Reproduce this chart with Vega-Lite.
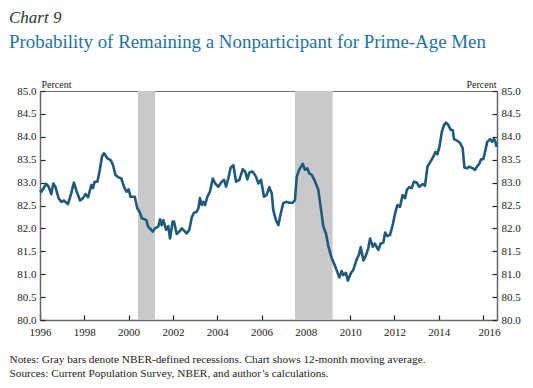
{
  "$schema": "https://vega.github.io/schema/vega-lite/v6.json",
  "width": 457,
  "height": 229,
  "autosize": {"type": "none"},
  "padding": {"left": 40, "top": 91, "right": 36, "bottom": 68},
  "background": "white",
  "config": {
    "font": "Liberation Serif",
    "view": {"stroke": "#777", "strokeWidth": 1},
    "axis": {
      "labelFont": "Liberation Serif",
      "labelFontSize": 11,
      "labelColor": "#222",
      "labelFlush": false,
      "domainColor": "#666",
      "domainWidth": 1.5,
      "tickColor": "#222",
      "tickWidth": 1.2,
      "tickSize": -5,
      "labelPadding": 9,
      "grid": false
    }
  },
  "title": {
    "text": "Chart 9",
    "subtitle": "Probability of Remaining a Nonparticipant for Prime-Age Men",
    "anchor": "start",
    "frame": "group",
    "dx": -31,
    "offset": 26,
    "font": "Liberation Serif",
    "fontStyle": "italic",
    "fontWeight": "normal",
    "fontSize": 17,
    "color": "#333333",
    "subtitleFont": "Liberation Serif",
    "subtitleFontSize": 18.9,
    "subtitleColor": "#1f72a0",
    "subtitlePadding": 6
  },
  "datasets": {
    "series": [
      {"year": 1996.0, "value": 82.84},
      {"year": 1996.06, "value": 82.80},
      {"year": 1996.28, "value": 82.97},
      {"year": 1996.39, "value": 82.91},
      {"year": 1996.51, "value": 82.75},
      {"year": 1996.60, "value": 82.98},
      {"year": 1996.69, "value": 82.91},
      {"year": 1996.84, "value": 82.66},
      {"year": 1996.96, "value": 82.58},
      {"year": 1997.08, "value": 82.61},
      {"year": 1997.26, "value": 82.53},
      {"year": 1997.39, "value": 82.73},
      {"year": 1997.53, "value": 83.00},
      {"year": 1997.66, "value": 82.80},
      {"year": 1997.81, "value": 82.61},
      {"year": 1997.94, "value": 82.66},
      {"year": 1998.05, "value": 82.75},
      {"year": 1998.17, "value": 82.68},
      {"year": 1998.32, "value": 82.95},
      {"year": 1998.39, "value": 82.88},
      {"year": 1998.47, "value": 83.02},
      {"year": 1998.59, "value": 83.02},
      {"year": 1998.70, "value": 83.28},
      {"year": 1998.80, "value": 83.57},
      {"year": 1998.89, "value": 83.64},
      {"year": 1999.04, "value": 83.53},
      {"year": 1999.19, "value": 83.49},
      {"year": 1999.30, "value": 83.38},
      {"year": 1999.40, "value": 83.17},
      {"year": 1999.52, "value": 83.12},
      {"year": 1999.67, "value": 83.09},
      {"year": 1999.79, "value": 82.91},
      {"year": 1999.90, "value": 82.80},
      {"year": 2000.00, "value": 82.85},
      {"year": 2000.09, "value": 82.69},
      {"year": 2000.28, "value": 82.69},
      {"year": 2000.39, "value": 82.44},
      {"year": 2000.50, "value": 82.36},
      {"year": 2000.60, "value": 82.22},
      {"year": 2000.80, "value": 82.18},
      {"year": 2000.88, "value": 82.04},
      {"year": 2001.02, "value": 81.97},
      {"year": 2001.09, "value": 81.93},
      {"year": 2001.19, "value": 82.00},
      {"year": 2001.34, "value": 82.04},
      {"year": 2001.42, "value": 82.20},
      {"year": 2001.49, "value": 82.07},
      {"year": 2001.57, "value": 82.18},
      {"year": 2001.69, "value": 81.97},
      {"year": 2001.79, "value": 82.05},
      {"year": 2001.87, "value": 81.78},
      {"year": 2001.99, "value": 82.15},
      {"year": 2002.05, "value": 82.15},
      {"year": 2002.17, "value": 81.88},
      {"year": 2002.29, "value": 81.93},
      {"year": 2002.40, "value": 82.00},
      {"year": 2002.47, "value": 81.97},
      {"year": 2002.62, "value": 81.89},
      {"year": 2002.74, "value": 81.97},
      {"year": 2002.85, "value": 82.24},
      {"year": 2002.95, "value": 82.34},
      {"year": 2003.07, "value": 82.36},
      {"year": 2003.15, "value": 82.44},
      {"year": 2003.22, "value": 82.66},
      {"year": 2003.30, "value": 82.51},
      {"year": 2003.37, "value": 82.58},
      {"year": 2003.45, "value": 82.51},
      {"year": 2003.55, "value": 82.69},
      {"year": 2003.67, "value": 82.80},
      {"year": 2003.80, "value": 83.09},
      {"year": 2003.91, "value": 82.98},
      {"year": 2004.05, "value": 82.91},
      {"year": 2004.20, "value": 83.02},
      {"year": 2004.31, "value": 83.06},
      {"year": 2004.40, "value": 82.91},
      {"year": 2004.50, "value": 83.09},
      {"year": 2004.61, "value": 83.33},
      {"year": 2004.73, "value": 83.38},
      {"year": 2004.85, "value": 83.02},
      {"year": 2005.00, "value": 83.06},
      {"year": 2005.15, "value": 83.29},
      {"year": 2005.26, "value": 83.24},
      {"year": 2005.36, "value": 83.07},
      {"year": 2005.45, "value": 83.22},
      {"year": 2005.60, "value": 83.24},
      {"year": 2005.75, "value": 83.13},
      {"year": 2005.86, "value": 82.98},
      {"year": 2005.98, "value": 83.06},
      {"year": 2006.11, "value": 82.69},
      {"year": 2006.23, "value": 82.73},
      {"year": 2006.35, "value": 82.90},
      {"year": 2006.46, "value": 82.77},
      {"year": 2006.53, "value": 82.40},
      {"year": 2006.65, "value": 82.18},
      {"year": 2006.76, "value": 82.07},
      {"year": 2006.87, "value": 82.33},
      {"year": 2006.98, "value": 82.55},
      {"year": 2007.11, "value": 82.58},
      {"year": 2007.25, "value": 82.56},
      {"year": 2007.41, "value": 82.56},
      {"year": 2007.51, "value": 82.62},
      {"year": 2007.59, "value": 83.13},
      {"year": 2007.71, "value": 83.29},
      {"year": 2007.86, "value": 83.41},
      {"year": 2007.96, "value": 83.28},
      {"year": 2008.07, "value": 83.31},
      {"year": 2008.16, "value": 83.20},
      {"year": 2008.27, "value": 83.17},
      {"year": 2008.42, "value": 83.02},
      {"year": 2008.56, "value": 82.85},
      {"year": 2008.67, "value": 82.47},
      {"year": 2008.79, "value": 82.04},
      {"year": 2008.91, "value": 81.89},
      {"year": 2009.02, "value": 81.60},
      {"year": 2009.17, "value": 81.35},
      {"year": 2009.32, "value": 81.18},
      {"year": 2009.42, "value": 81.05},
      {"year": 2009.51, "value": 80.93},
      {"year": 2009.62, "value": 81.07},
      {"year": 2009.69, "value": 80.98},
      {"year": 2009.81, "value": 81.03},
      {"year": 2009.90, "value": 80.86},
      {"year": 2010.03, "value": 81.02},
      {"year": 2010.14, "value": 81.09},
      {"year": 2010.30, "value": 81.33},
      {"year": 2010.39, "value": 81.42},
      {"year": 2010.48, "value": 81.59},
      {"year": 2010.60, "value": 81.30},
      {"year": 2010.72, "value": 81.42},
      {"year": 2010.82, "value": 81.57},
      {"year": 2010.90, "value": 81.78},
      {"year": 2011.02, "value": 81.60},
      {"year": 2011.12, "value": 81.67},
      {"year": 2011.20, "value": 81.59},
      {"year": 2011.27, "value": 81.53},
      {"year": 2011.38, "value": 81.67},
      {"year": 2011.50, "value": 81.69},
      {"year": 2011.58, "value": 81.91},
      {"year": 2011.68, "value": 81.83},
      {"year": 2011.80, "value": 81.86},
      {"year": 2011.92, "value": 82.07},
      {"year": 2012.03, "value": 82.33},
      {"year": 2012.13, "value": 82.51},
      {"year": 2012.25, "value": 82.47},
      {"year": 2012.37, "value": 82.73},
      {"year": 2012.48, "value": 82.66},
      {"year": 2012.56, "value": 82.84},
      {"year": 2012.67, "value": 82.90},
      {"year": 2012.78, "value": 82.88},
      {"year": 2012.88, "value": 83.02},
      {"year": 2013.01, "value": 83.00},
      {"year": 2013.12, "value": 82.91},
      {"year": 2013.28, "value": 82.97},
      {"year": 2013.38, "value": 82.93},
      {"year": 2013.49, "value": 83.35},
      {"year": 2013.61, "value": 83.44},
      {"year": 2013.76, "value": 83.57},
      {"year": 2013.85, "value": 83.67},
      {"year": 2013.94, "value": 83.62},
      {"year": 2014.03, "value": 83.78},
      {"year": 2014.14, "value": 84.11},
      {"year": 2014.24, "value": 84.26},
      {"year": 2014.33, "value": 84.31},
      {"year": 2014.43, "value": 84.26},
      {"year": 2014.54, "value": 84.15},
      {"year": 2014.63, "value": 84.15},
      {"year": 2014.69, "value": 83.95},
      {"year": 2014.81, "value": 83.92},
      {"year": 2014.96, "value": 83.87},
      {"year": 2015.08, "value": 83.75},
      {"year": 2015.16, "value": 83.33},
      {"year": 2015.27, "value": 83.31},
      {"year": 2015.38, "value": 83.35},
      {"year": 2015.54, "value": 83.31},
      {"year": 2015.64, "value": 83.28},
      {"year": 2015.74, "value": 83.36},
      {"year": 2015.83, "value": 83.41},
      {"year": 2015.91, "value": 83.51},
      {"year": 2016.01, "value": 83.51},
      {"year": 2016.09, "value": 83.67},
      {"year": 2016.19, "value": 83.89},
      {"year": 2016.32, "value": 83.95},
      {"year": 2016.41, "value": 83.89},
      {"year": 2016.50, "value": 83.95},
      {"year": 2016.56, "value": 83.89},
      {"year": 2016.61, "value": 83.78}
    ],
    "recessions": [
      {"start": 2000.42, "end": 2001.19},
      {"start": 2007.51, "end": 2009.21}
    ]
  },
  "layer": [
    {
      "data": {"name": "recessions"},
      "mark": {"type": "rect", "color": "#c8c9cb"},
      "encoding": {
        "x": {
          "field": "start",
          "type": "quantitative",
          "scale": {"domain": [1996, 2016.63], "nice": false, "zero": false},
          "axis": {
            "values": [1996, 1998, 2000, 2002, 2004, 2006, 2008, 2010, 2012, 2014, 2016],
            "format": "d",
            "labelPadding": 11,
            "labelFlush": false,
            "labelOffset": {"condition": {"test": "datum.value == 2016", "value": 6}, "value": 0},
            "title": [
              "Notes: Gray bars denote NBER-defined recessions. Chart shows 12-month moving average.",
              "Sources: Current Population Survey, NBER, and author\u2019s calculations."
            ],
            "titleFont": "Liberation Serif",
            "titleFontSize": 11.3,
            "titleFontWeight": "normal",
            "titleColor": "#222",
            "titleAnchor": "start",
            "titleAlign": "left",
            "titleBaseline": "alphabetic",
            "titleLineHeight": 14.5,
            "titleX": -31,
            "titleY": 42
          }
        },
        "x2": {"field": "end"}
      }
    },
    {
      "data": {"name": "series"},
      "mark": {"type": "line", "color": "#1f5a7a", "strokeWidth": 2.6, "strokeJoin": "round", "interpolate": "linear"},
      "encoding": {
        "x": {"field": "year", "type": "quantitative"},
        "y": {
          "field": "value",
          "type": "quantitative",
          "scale": {"domain": [80, 85], "nice": false, "zero": false},
          "axis": {
            "orient": "left",
            "values": [80, 80.5, 81, 81.5, 82, 82.5, 83, 83.5, 84, 84.5, 85],
            "format": ".1f",
            "title": "Percent",
            "titleAngle": 0,
            "titleFont": "Liberation Serif",
            "titleFontSize": 10,
            "titleFontWeight": "normal",
            "titleColor": "#222",
            "titleAlign": "left",
            "titleBaseline": "alphabetic",
            "titleX": 1,
            "titleY": -4
          }
        }
      }
    },
    {
      "data": {"name": "series"},
      "mark": {"type": "line", "opacity": 0},
      "encoding": {
        "x": {"field": "year", "type": "quantitative"},
        "y": {
          "field": "value",
          "type": "quantitative",
          "scale": {"domain": [80, 85], "nice": false, "zero": false},
          "axis": {
            "orient": "right",
            "values": [80, 80.5, 81, 81.5, 82, 82.5, 83, 83.5, 84, 84.5, 85],
            "format": ".1f",
            "title": "Percent",
            "titleAngle": 0,
            "titleFont": "Liberation Serif",
            "titleFontSize": 10,
            "titleFontWeight": "normal",
            "titleColor": "#222",
            "titleAlign": "right",
            "titleBaseline": "alphabetic",
            "titleX": -1,
            "titleY": -4
          }
        }
      }
    }
  ],
  "resolve": {"scale": {"y": "independent"}, "axis": {"y": "independent"}}
}
